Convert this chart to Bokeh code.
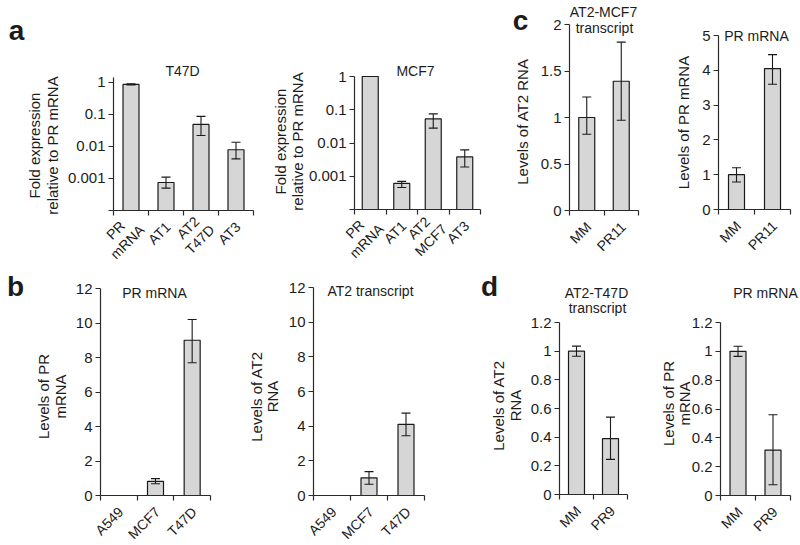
import math
from bokeh.plotting import figure
from bokeh.models import ColumnDataSource, Whisker, TeeHead, Label, FixedTicker, Range1d
from bokeh.layouts import row, column
from bokeh.embed import file_html
from bokeh.resources import INLINE

FONT = "Liberation Sans"
TXT = "#1c1c1c"
AX = "#2a2a2a"
BAR_FILL = "#d6d6d6"
BAR_LINE = "#1a1a1a"
NAN = float("nan")

# ---------------- data ----------------
# panel a, T47D (log scale)
a1_labels = ["PR\nmRNA", "AT1", "AT2\nT47D", "AT3"]
a1_values = [0.87, 0.00075, 0.049, 0.0079]
a1_low = [0.84, 0.0005, 0.022, 0.0041]
a1_high = [0.91, 0.0011, 0.087, 0.0135]
a1_ticks = [0.0001, 0.001, 0.01, 0.1, 1]
a1_ticklabels = ["", "0.001", "0.01", "0.1", "1"]

# panel a, MCF7 (log scale)
a2_labels = ["PR\nmRNA", "AT1", "AT2\nMCF7", "AT3"]
a2_values = [1.0, 0.00061, 0.053, 0.0038]
a2_low = [NAN, 0.00046, 0.028, 0.0019]
a2_high = [NAN, 0.0007, 0.075, 0.0062]

# panel c
c1_labels = ["MM", "PR11"]
c1_values = [1.0, 1.39]
c1_low = [0.82, 0.97]
c1_high = [1.22, 1.81]
c1_ticks = [0, 0.5, 1, 1.5, 2]
c1_ticklabels = ["0", "0.5", "1", "1.5", "2"]

c2_labels = ["MM", "PR11"]
c2_values = [1.0, 4.05]
c2_low = [0.79, 3.6]
c2_high = [1.2, 4.45]
c2_ticks = [0, 1, 2, 3, 4, 5]
c2_ticklabels = ["0", "1", "2", "3", "4", "5"]

# panel b
b1_labels = ["A549", "MCF7", "T47D"]
b1_values = [0.0, 0.82, 9.0]
b1_low = [NAN, 0.68, 7.7]
b1_high = [NAN, 0.98, 10.2]
b_ticks = [0, 2, 4, 6, 8, 10, 12]
b_ticklabels = ["0", "2", "4", "6", "8", "10", "12"]

b2_labels = ["A549", "MCF7", "T47D"]
b2_values = [0.0, 1.02, 4.1]
b2_low = [NAN, 0.65, 3.45]
b2_high = [NAN, 1.38, 4.75]

# panel d
d1_labels = ["MM", "PR9"]
d1_values = [1.0, 0.39]
d1_low = [0.965, 0.245]
d1_high = [1.035, 0.54]
d_ticks = [0, 0.2, 0.4, 0.6, 0.8, 1, 1.2]
d_ticklabels = ["0", "0.2", "0.4", "0.6", "0.8", "1", "1.2"]

d2_labels = ["MM", "PR9"]
d2_values = [1.0, 0.315]
d2_low = [0.965, 0.075]
d2_high = [1.035, 0.56]

# ---------------- helpers ----------------
CW = {'A': .667, 'B': .667, 'C': .722, 'D': .722, 'E': .667, 'F': .611, 'M': .833,
      'N': .722, 'P': .667, 'R': .722, 'T': .611, 'm': .833, '-': .333, ' ': .278}
FS = 15      # tick labels, axis labels
FS_T = 14    # titles
FS_X = 14    # category labels
ROT = math.radians(45)


def text_w(s, fs):
    return sum(CW.get(ch, .556) for ch in s) * fs


class Geo:
    """figure box and data box (both in page px) -> data coordinate mapping"""
    def __init__(self, fig_left, fig_top, fig_w, fig_h, L, R, T, B, yr, log=False, n=1):
        self.fl, self.ft, self.fw, self.fh = fig_left, fig_top, fig_w, fig_h
        self.L, self.R, self.T, self.B = L, R, T, B
        self.yr = yr
        self.log = log
        self.n = n

    def x(self, px):
        return (px - self.L) / (self.R - self.L) * self.n

    def y(self, py):
        f = (self.B - py) / (self.B - self.T)
        y0, y1 = self.yr
        if self.log:
            return 10 ** (math.log10(y0) + f * (math.log10(y1) - math.log10(y0)))
        return y0 + f * (y1 - y0)


def add_text(p, g, text, px, py, size=FS, align="center", angle=0.0, bold=False):
    p.add_layout(Label(x=g.x(px), y=g.y(py), text=text, text_font=FONT,
                       text_font_size=f"{size}px",
                       text_color=TXT, text_align=align, text_baseline="middle",
                       angle=angle,
                       text_font_style="bold" if bold else "normal"))


def make_panel(g, labels, values, low, high, ticks, ticklabels):
    n = len(labels)
    y0, y1 = g.yr
    p = figure(width=g.fw, height=g.fh,
               x_range=Range1d(g.x(g.fl), g.x(g.fl + g.fw)),
               y_range=Range1d(g.y(g.ft + g.fh), g.y(g.ft)),
               y_axis_type="log" if g.log else "linear", output_backend="svg",
               toolbar_location=None, title=None,
               min_border_left=0, min_border_right=0, min_border_top=0, min_border_bottom=0)
    p.outline_line_color = None
    p.grid.visible = False
    p.background_fill_color = "white"
    p.border_fill_color = "white"

    step = (g.R - g.L) / n
    xs = [i + 0.5 for i in range(n)]
    src = ColumnDataSource(dict(x=xs, top=values))
    p.vbar(x="x", top="top", bottom=y0, width=16.0 / step, source=src,
           fill_color=BAR_FILL, line_color=BAR_LINE, line_width=1.2)

    ex, elo, ehi = [], [], []
    for xv, lo, hi in zip(xs, low, high):
        if not (math.isnan(lo) or math.isnan(hi)):
            ex.append(xv); elo.append(lo); ehi.append(hi)
    if ex:
        esrc = ColumnDataSource(dict(base=ex, lower=elo, upper=ehi))
        p.add_layout(Whisker(source=esrc, base="base", lower="lower", upper="upper",
                             level="overlay", line_color=BAR_LINE, line_width=1.1,
                             upper_head=TeeHead(size=9, line_color=BAR_LINE, line_width=1.1),
                             lower_head=TeeHead(size=9, line_color=BAR_LINE, line_width=1.1)))

    # y axis at the left edge of the data box
    ya = p.yaxis[0]
    ya.fixed_location = 0
    ya.bounds = (y0, y1)
    ya.ticker = FixedTicker(ticks=ticks, minor_ticks=[])
    ya.major_label_overrides = {t: s for t, s in zip(ticks, ticklabels)}
    ya.major_tick_out = 5
    ya.major_tick_in = 0
    ya.minor_tick_line_color = None
    ya.axis_line_color = AX
    ya.axis_line_width = 1.2
    ya.major_tick_line_color = AX
    ya.major_tick_line_width = 1.2
    ya.major_label_text_font = FONT
    ya.major_label_text_font_size = f"{FS}px"
    ya.major_label_text_color = TXT
    ya.major_label_standoff = 3

    # x axis at the bottom of the data box, ticks on category boundaries
    xa = p.xaxis[0]
    xa.fixed_location = y0
    xa.bounds = (0, n)
    bounds = list(range(n + 1))
    xa.ticker = FixedTicker(ticks=bounds, minor_ticks=[])
    xa.major_label_overrides = {b: "" for b in bounds}
    xa.major_tick_out = 5
    xa.major_tick_in = 0
    xa.minor_tick_line_color = None
    xa.axis_line_color = AX
    xa.axis_line_width = 1.2
    xa.major_tick_line_color = AX
    xa.major_tick_line_width = 1.2
    xa.major_label_text_font_size = "1px"

    # rotated category labels (45 degrees, reading upwards)
    for i, lab in enumerate(labels):
        cx = g.L + (i + 0.5) * step
        lines = lab.split("\n")
        if len(lines) == 1:
            add_text(p, g, lines[0], cx + 2, g.B + 14, size=FS_X, align="right", angle=ROT)
        else:
            axp, ayp = cx + 5, g.B + 11
            wmax = max(text_w(l, FS_X) for l in lines)
            c0 = (axp - wmax / 2 * 0.7071, ayp + wmax / 2 * 0.7071)
            lh = FS_X * 1.2
            for k, l in enumerate(lines):
                off = (k - (len(lines) - 1) / 2) * lh
                add_text(p, g, l, c0[0] + off * 0.7071, c0[1] + off * 0.7071,
                         size=FS_X, align="center", angle=ROT)
    return p


def ylabel(p, g, lines, xs, cy):
    for l, xp in zip(lines, xs):
        add_text(p, g, l, xp, cy, angle=math.pi / 2)


# ---------------- row 1 ----------------
g1 = Geo(0, 0, 268, 262, 113, 253, 77, 210, (0.0001, 1.43), log=True, n=4)
p1 = make_panel(g1, a1_labels, a1_values, a1_low, a1_high, a1_ticks, a1_ticklabels)
add_text(p1, g1, "a", 16, 30, size=28, bold=True)
add_text(p1, g1, "T47D", 182, 70, size=FS_T)
ylabel(p1, g1, ["Fold expression", "relative to PR mRNA"], [34, 52], 145)

g2 = Geo(268, 0, 232, 262, 354, 480, 76, 209, (0.0001, 1.0), log=True, n=4)
p2 = make_panel(g2, a2_labels, a2_values, a2_low, a2_high, a1_ticks, a1_ticklabels)
add_text(p2, g2, "MCF7", 415, 70, size=FS_T)
ylabel(p2, g2, ["Fold expression", "relative to PR mRNA"], [280, 297], 141)

g3 = Geo(500, 0, 150, 262, 569, 638, 24, 210, (0, 2), n=2)
p3 = make_panel(g3, c1_labels, c1_values, c1_low, c1_high, c1_ticks, c1_ticklabels)
add_text(p3, g3, "c", 520, 20, size=28, bold=True)
add_text(p3, g3, "AT2-MCF7", 603, 11, size=FS_T)
add_text(p3, g3, "transcript", 604, 27, size=FS_T)
ylabel(p3, g3, ["Levels of AT2 RNA"], [522], 121)

g4 = Geo(650, 0, 150, 262, 718, 790, 35, 209, (0, 5), n=2)
p4 = make_panel(g4, c2_labels, c2_values, c2_low, c2_high, c2_ticks, c2_ticklabels)
add_text(p4, g4, "PR mRNA", 756, 35, size=FS_T)
ylabel(p4, g4, ["Levels of PR mRNA"], [683], 122)

# ---------------- row 2 ----------------
g5 = Geo(0, 262, 238, 282, 100, 210, 288, 495, (0, 12), n=3)
p5 = make_panel(g5, b1_labels, b1_values, b1_low, b1_high, b_ticks, b_ticklabels)
add_text(p5, g5, "b", 15, 286, size=28, bold=True)
add_text(p5, g5, "PR mRNA", 154, 292, size=FS_T)
ylabel(p5, g5, ["Levels of PR", "mRNA"], [43, 60], 396)

g6 = Geo(238, 262, 232, 282, 313, 424, 287, 495, (0, 12), n=3)
p6 = make_panel(g6, b2_labels, b2_values, b2_low, b2_high, b_ticks, b_ticklabels)
add_text(p6, g6, "AT2 transcript", 370, 290, size=FS_T)
ylabel(p6, g6, ["Levels of AT2", "RNA"], [256, 272], 396)

g7 = Geo(470, 262, 180, 282, 559, 627, 322, 494, (0, 1.2), n=2)
p7 = make_panel(g7, d1_labels, d1_values, d1_low, d1_high, d_ticks, d_ticklabels)
add_text(p7, g7, "d", 489, 286, size=28, bold=True)
add_text(p7, g7, "AT2-T47D", 596, 292, size=FS_T)
add_text(p7, g7, "transcript", 597, 307, size=FS_T)
ylabel(p7, g7, ["Levels of AT2", "RNA"], [498, 515], 405)

g8 = Geo(650, 262, 150, 282, 720, 790, 322, 495, (0, 1.2), n=2)
p8 = make_panel(g8, d2_labels, d2_values, d2_low, d2_high, d_ticks, d_ticklabels)
add_text(p8, g8, "PR mRNA", 765, 292, size=FS_T)
ylabel(p8, g8, ["Levels of PR", "mRNA"], [668, 684], 403)

layout = column(row(p1, p2, p3, p4), row(p5, p6, p7, p8))
open("out.html", "w").write(file_html(layout, INLINE))
